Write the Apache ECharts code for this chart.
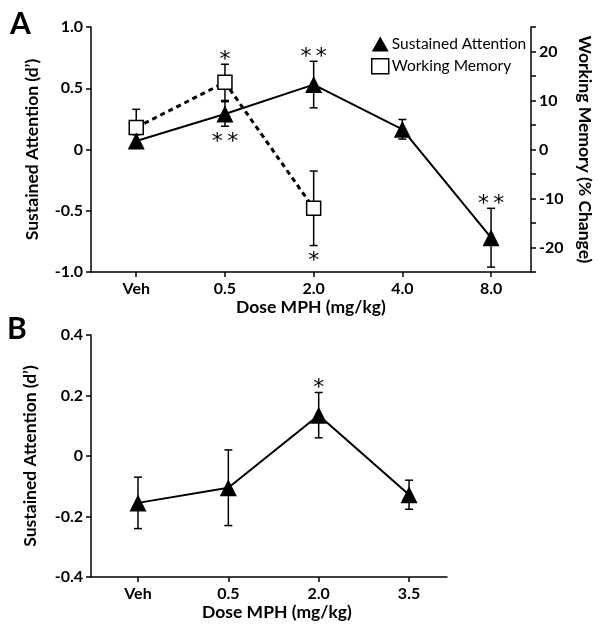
<!DOCTYPE html>
<html><head><meta charset="utf-8">
<script src="https://cdn.jsdelivr.net/npm/echarts@6/dist/echarts.min.js"></script>
<style>html,body{margin:0;padding:0;background:#fff}#c{width:602px;height:631px}</style>
</head><body><div id="c"></div>
<script>
// ---- Panel A data ----
const dosesA = ['Veh', '0.5', '2.0', '4.0', '8.0'];
const saA = [0.07, 0.29, 0.53, 0.165, -0.72];
const saAErr = [0.05, 0.1, 0.19, 0.08, 0.24];
const saAStars = ['', '*\u2009*', '*\u2009*', '', '*\u2009*'];
const saAStarPos = ['', 'below', 'above', '', 'above'];
const wmA = [4.5, 13.7, -12];
const wmAErr = [3.7, 3.7, 7.6];
const wmAStars = ['', '*', '*'];
const wmAStarPos = ['', 'above', 'below'];
// ---- Panel B data ----
const dosesB = ['Veh', '0.5', '2.0', '3.5'];
const saB = [-0.155, -0.105, 0.135, -0.128];
const saBErr = [0.085, 0.125, 0.075, 0.048];
const saBStars = ['', '', '*', ''];
const saBStarPos = ['', '', 'above', ''];

const FONT = 'Lato, "Open Sans", sans-serif';
const STARFONT = '"DejaVu Sans", sans-serif';
const black = '#000';

function fmtTick(v) { return v === 0 ? '0' : v.toFixed(1); }

function errRender(stars, pos) {
  return function (params, api) {
    const x = api.value(0), v = api.value(1), e = api.value(2);
    const top = api.coord([x, v + e]), bot = api.coord([x, v - e]);
    const cw = 4;
    const st = { stroke: black, lineWidth: 1.5 };
    const ch = [
      { type: 'line', shape: { x1: top[0], y1: top[1], x2: bot[0], y2: bot[1] }, style: st },
      { type: 'line', shape: { x1: top[0] - cw, y1: top[1], x2: top[0] + cw, y2: top[1] }, style: st },
      { type: 'line', shape: { x1: bot[0] - cw, y1: bot[1], x2: bot[0] + cw, y2: bot[1] }, style: st }
    ];
    const s = stars[params.dataIndex];
    if (s) {
      const above = pos[params.dataIndex] === 'above';
      ch.push({ type: 'text', style: { text: s, x: top[0], y: above ? top[1] - 4 : bot[1] + 16,
        align: 'center', verticalAlign: 'middle', font: '22px ' + STARFONT, fill: black } });
    }
    return { type: 'group', children: ch };
  };
}

const axisLabelStyle = { color: black, fontFamily: FONT, fontWeight: 'bold', fontSize: 16 };
const nameStyle = { color: black, fontFamily: FONT, fontWeight: 'bold', fontSize: 17.5 };
const axLine = { show: true, onZero: false, lineStyle: { color: black, width: 1.5 } };
const axTick = { show: true, length: 5, lineStyle: { color: black, width: 1.5 } };

const chart = echarts.init(document.getElementById('c'), null, { renderer: 'canvas' });
chart.setOption({
  backgroundColor: '#fff',
  animation: false,
  graphic: [
    { type: 'text', left: 10, top: 9, style: { text: 'A', font: 'bold 30px ' + FONT, fill: black } },
    { type: 'text', left: 7, top: 314, style: { text: 'B', font: 'bold 30px ' + FONT, fill: black } }
  ],
  legend: {
    orient: 'vertical', left: 366, top: 31, itemWidth: 17, itemHeight: 15, itemGap: 6,
    textStyle: { color: black, fontFamily: FONT, fontSize: 15.5, padding: [0, 0, 0, -2] },
    data: [
      { name: 'Sustained Attention', icon: 'triangle', itemStyle: { color: black } },
      { name: 'Working Memory', icon: 'rect', itemStyle: { color: '#fff', borderColor: black, borderWidth: 1.5 } }
    ]
  },
  grid: [
    { left: 91, top: 27, width: 441, height: 245 },
    { left: 91, top: 335, width: 356, height: 242 }
  ],
  xAxis: [
    { type: 'value', gridIndex: 0, min: -0.51, max: 4.45,
      axisLine: axLine, splitLine: { show: false },
      axisTick: Object.assign({ customValues: dosesA.map((d, i) => i) }, axTick),
      axisLabel: Object.assign({ customValues: dosesA.map((d, i) => i), margin: 9,
        formatter: v => dosesA[Math.round(v)] }, axisLabelStyle),
      name: 'Dose MPH (mg/kg)', nameLocation: 'middle', nameGap: 26, nameTextStyle: nameStyle },
    { type: 'value', gridIndex: 1, min: -0.52, max: 3.42,
      axisLine: axLine, splitLine: { show: false },
      axisTick: Object.assign({ customValues: dosesB.map((d, i) => i) }, axTick),
      axisLabel: Object.assign({ customValues: dosesB.map((d, i) => i), margin: 9,
        formatter: v => dosesB[Math.round(v)] }, axisLabelStyle),
      name: 'Dose MPH (mg/kg)', nameLocation: 'middle', nameGap: 26,
      nameTextStyle: Object.assign({ padding: [0, 0, 0, 16] }, nameStyle) }
  ],
  yAxis: [
    { type: 'value', gridIndex: 0, min: -1, max: 1, interval: 0.5, position: 'left',
      axisLine: axLine, axisTick: axTick, splitLine: { show: false },
      axisLabel: Object.assign({ formatter: fmtTick, margin: 8 }, axisLabelStyle),
      name: 'Sustained Attention (d\u2019)', nameLocation: 'middle', nameGap: 50, nameRotate: 90,
      nameTextStyle: nameStyle },
    { type: 'value', gridIndex: 0, min: -25, max: 25, interval: 5, position: 'right',
      axisLine: axLine, axisTick: axTick, splitLine: { show: false },
      axisLabel: Object.assign({ formatter: v => (v % 10 === 0 ? String(v) : ''), margin: 8 }, axisLabelStyle),
      name: 'Working Memory (% Change)', nameLocation: 'middle', nameGap: 45, nameRotate: -90,
      nameTextStyle: nameStyle },
    { type: 'value', gridIndex: 1, min: -0.4, max: 0.4, interval: 0.2, position: 'left',
      axisLine: axLine, axisTick: axTick, splitLine: { show: false },
      axisLabel: Object.assign({ formatter: fmtTick, margin: 8 }, axisLabelStyle),
      name: 'Sustained Attention (d\u2019)', nameLocation: 'middle', nameGap: 52, nameRotate: 90,
      nameTextStyle: nameStyle }
  ],
  series: [
    { type: 'custom', xAxisIndex: 0, yAxisIndex: 0, z: 1, silent: true,
      renderItem: errRender(saAStars, saAStarPos),
      data: saA.map((v, i) => [i, v, saAErr[i]]) },
    { type: 'custom', xAxisIndex: 0, yAxisIndex: 1, z: 1, silent: true,
      renderItem: errRender(wmAStars, wmAStarPos),
      data: wmA.map((v, i) => [i, v, wmAErr[i]]) },
    { name: 'Working Memory', type: 'line', xAxisIndex: 0, yAxisIndex: 1, z: 3,
      data: wmA.map((v, i) => [i, v]),
      symbol: 'rect', symbolSize: 14,
      itemStyle: { color: '#fff', borderColor: black, borderWidth: 1.5 },
      lineStyle: { color: black, width: 3, type: [5, 4] } },
    { name: 'Sustained Attention', type: 'line', xAxisIndex: 0, yAxisIndex: 0, z: 4,
      data: saA.map((v, i) => [i, v]),
      symbol: 'triangle', symbolSize: 17,
      itemStyle: { color: black },
      lineStyle: { color: black, width: 2 } },
    { type: 'custom', xAxisIndex: 1, yAxisIndex: 2, z: 1, silent: true,
      renderItem: errRender(saBStars, saBStarPos),
      data: saB.map((v, i) => [i, v, saBErr[i]]) },
    { name: 'SA B', type: 'line', xAxisIndex: 1, yAxisIndex: 2, z: 4,
      data: saB.map((v, i) => [i, v]),
      symbol: 'triangle', symbolSize: 17,
      itemStyle: { color: black },
      lineStyle: { color: black, width: 2 } }
  ]
});
</script></body></html>
